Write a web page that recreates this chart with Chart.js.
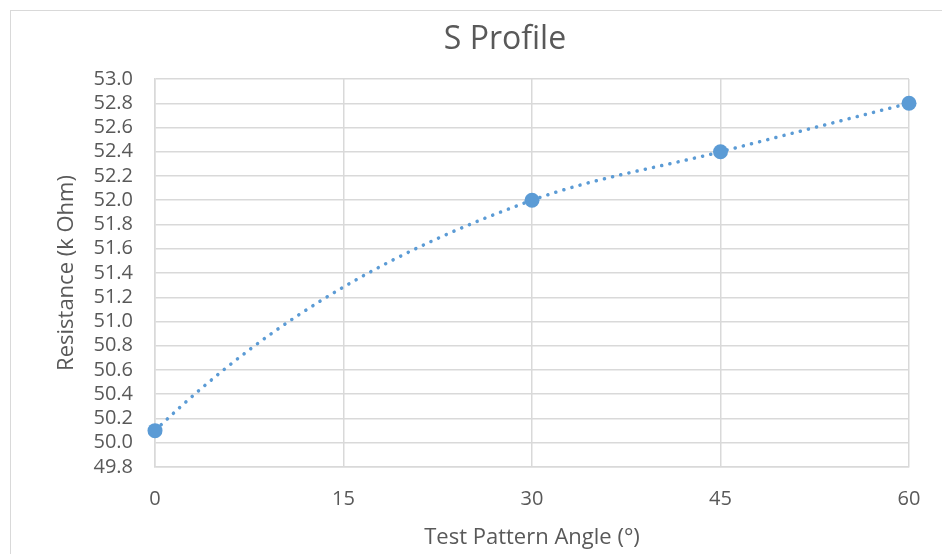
<!DOCTYPE html>
<html>
<head>
<meta charset="utf-8">
<script src="https://cdn.jsdelivr.net/npm/chart.js@4/dist/chart.umd.min.js"></script>
<style>
  html, body { margin: 0; padding: 0; background: #fff; }
  #wrap { position: relative; width: 942px; height: 554px; overflow: hidden; }
  #frame { position: absolute; left: 10px; top: 10px; width: 960px; height: 560px; border: 1px solid #d9d9d9; box-sizing: border-box; }
  canvas { position: absolute; left: 0; top: 0; }
</style>
</head>
<body>
<div id="wrap">
  <div id="frame"></div>
  <canvas id="chart" width="942" height="554"></canvas>
</div>
<script>
// values
const angles = [0, 30, 45, 60];
const resistance = [50.1, 52.0, 52.4, 52.8];
const xTicks = [0, 15, 30, 45, 60];
const yRange = [49.8, 53.0];

const chartTitle = 'S Profile';
const xTitle = 'Test Pattern Angle (°)';
const yTitle = 'Resistance (k Ohm)';

const blue = '#5b9bd5';
const grey = '#595959';
const gridColor = '#d9d9d9';
const fontFamily = "'Open Sans', 'Noto Sans', sans-serif";

const points = angles.map((a, i) => ({ x: a, y: resistance[i] }));

// Excel-like smoothed line: hermite tangents (harmonic mean inside,
// extrapolated secant at the ends), turned into bezier control points
const smoothLine = {
    id: 'smoothLine',
    beforeDatasetsDraw(chart) {
        const meta = chart.getDatasetMeta(0);
        const pts = meta.data;
        if (pts.length < 3) return;
        meta.dataset.updateControlPoints(chart.chartArea);

        const s = [];
        for (let i = 0; i < pts.length - 1; i++) {
            s.push((pts[i + 1].y - pts[i].y) / (pts[i + 1].x - pts[i].x));
        }
        const m = pts.map((p, i) => {
            if (i === 0) return 2 * s[0] - s[1];
            if (i === pts.length - 1) return 2 * s[i - 1] - s[i - 2];
            const a = s[i - 1], b = s[i];
            if (a * b <= 0) return 0;
            return 2 / (1 / a + 1 / b);
        });

        pts.forEach((p, i) => {
            if (i > 0) {
                const h = p.x - pts[i - 1].x;
                p.cp1x = p.x - h / 3;
                p.cp1y = p.y - m[i] * h / 3;
            }
            if (i < pts.length - 1) {
                const h = pts[i + 1].x - p.x;
                p.cp2x = p.x + h / 3;
                p.cp2y = p.y + m[i] * h / 3;
            }
        });
    }
};

// chart title, centred where the original puts it
const titlePlugin = {
    id: 'titleText',
    afterDraw(chart) {
        const ctx = chart.ctx;
        ctx.save();
        ctx.fillStyle = grey;
        ctx.font = "32px " + fontFamily;
        ctx.textAlign = 'center';
        ctx.textBaseline = 'alphabetic';
        ctx.fillText(chartTitle, 505, 49);
        ctx.restore();
    }
};

new Chart(document.getElementById('chart'), {
    type: 'scatter',
    data: {
        datasets: [{
            data: points,
            showLine: true,
            clip: false,
            borderColor: blue,
            backgroundColor: blue,
            borderWidth: 3.5,
            borderDash: [0.1, 8.3],
            borderCapStyle: 'round',
            tension: 0.4,
            capBezierPoints: false,
            pointRadius: 7.5,
            pointBorderWidth: 0,
            pointHoverRadius: 7.5
        }]
    },
    options: {
        responsive: false,
        animation: false,
        layout: { padding: { left: 0, right: 33, top: 79, bottom: 0 } },
        plugins: {
            legend: { display: false },
            tooltip: { enabled: false },
            title: { display: false }
        },
        scales: {
            x: {
                type: 'linear',
                min: xTicks[0],
                max: xTicks[xTicks.length - 1],
                afterBuildTicks: s => { s.ticks = xTicks.map(v => ({ value: v })); },
                afterFit: s => { s.height = 87; },
                grid: { color: gridColor, lineWidth: 1.5, drawTicks: false },
                border: { color: gridColor, width: 1.5 },
                ticks: {
                    color: grey,
                    padding: 20,
                    font: { family: fontFamily, size: 20 }
                },
                title: {
                    display: true,
                    text: xTitle,
                    color: grey,
                    font: { family: fontFamily, size: 22 },
                    padding: { top: 0, bottom: 3 }
                }
            },
            y: {
                min: yRange[0],
                max: yRange[1],
                afterFit: s => { s.width = 155; },
                grid: { color: gridColor, lineWidth: 1.5, drawTicks: false },
                border: { color: gridColor, width: 1.5 },
                ticks: {
                    stepSize: 0.2,
                    autoSkip: false,
                    color: grey,
                    padding: 22,
                    font: { family: fontFamily, size: 20 },
                    callback: v => v.toFixed(1)
                },
                title: {
                    display: true,
                    text: yTitle,
                    color: grey,
                    font: { family: fontFamily, size: 22 },
                    padding: { top: 54, bottom: 0 }
                }
            }
        }
    },
    plugins: [smoothLine, titlePlugin]
});
</script>
</body>
</html>
